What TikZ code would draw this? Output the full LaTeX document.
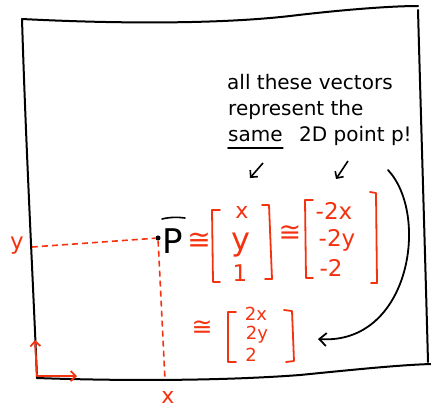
\documentclass[tikz,border=0pt]{standalone}
\usepackage{fontspec}
\setmainfont{DejaVu Sans}
\usetikzlibrary{arrows.meta}
\definecolor{pen}{RGB}{245,50,15}
\tikzset{
  frame/.style={line width=2pt, black, line cap=round},
  redline/.style={pen, line width=1.8pt, line cap=round, line join=round},
  reddash/.style={pen, line width=1.6pt, dash pattern=on 6pt off 4pt},
  blk/.style={inner sep=0pt, text=black},
  rtxt/.style={inner sep=0pt, text=pen},
  bark/.style={-{Straight Barb[length=5pt,width=10pt]}},
  fs/.style={font=\fontsize{#1}{#1}\selectfont},
}
\begin{document}
\begin{tikzpicture}[x=1pt,y=-1pt]
\useasboundingbox (0,0) rectangle (431,407);
% frame
\draw[frame] (22,19) .. controls (120,24) and (220,24) .. (290,16) .. controls (340,10) and (390,6) .. (418,6);
\draw[frame] (418,10) .. controls (421,120) and (425,250) .. (428,362);
\draw[frame] (37,378) .. controls (120,381) and (220,381) .. (300,375) .. controls (360,369) and (400,365) .. (431,364);
\draw[frame] (22,19) .. controls (26,150) and (33,280) .. (37,378);
% axes
\coordinate (o) at (37,376);
\coordinate (ytip) at (35,340);
\coordinate (xtip) at (77,376);
\draw[redline, bark] (o) -- (ytip);
\draw[redline, bark] (o) -- (xtip);
% point P
\node[circle, fill=black, inner sep=1.8pt] (p) at (158,238) {};
\node[blk, fs=34] (P) at (173,241) {P};
\draw[line width=1.6pt, line cap=round] (162,219) .. controls (170,217) and (178,217) .. (185,218);
% projections
\coordinate (yl) at (32,247);
\coordinate (xb) at (165,380);
\draw[reddash] (yl) -- (p);
\draw[reddash] (p) -- (xb);
\node[rtxt, fs=23] (ylab) at (17,246) {y};
\node[rtxt, fs=22] (xlab) at (168,397) {x};
% congruence signs
\node[rtxt, fs=28] (c1) at (199,241) {≅};
\node[rtxt, fs=27] (c2) at (290,233) {≅};
\node[rtxt, fs=25] (c3) at (202,328) {≅};
% matrix 1
\draw[redline] (220,210) -- (212,210) -- (213,282) -- (220,282);
\draw[redline] (262,205) -- (269,205) -- (272,279) -- (265,279);
\node[rtxt, fs=22] (m1a) at (242,212) {x};
\node[rtxt, fs=32] (m1b) at (241,245) {y};
\node[rtxt, fs=23] (m1c) at (240,273) {1};
% matrix 2
\draw[redline] (313,200) -- (305,200) -- (306,278) -- (313,278);
\draw[redline] (370,192) -- (376,193) -- (377,283) -- (371,283);
\node[rtxt, fs=23] (m2a) at (334,211) {-2x};
\node[rtxt, fs=23] (m2b) at (337,240) {-2y};
\node[rtxt, fs=23] (m2c) at (331,268) {-2};
% matrix 3
\draw[redline] (236,312) -- (228,312) -- (228,362) -- (236,362);
\draw[redline] (284,310) -- (292,311) -- (294,361) -- (286,362);
\node[rtxt, fs=18] (m3a) at (256,314) {2x};
\node[rtxt, fs=18] (m3b) at (257,335) {2y};
\node[rtxt, fs=18] (m3c) at (251,355) {2};
% note
\node[blk, fs=20, anchor=west] (l1) at (227,82) {all these vectors};
\node[blk, fs=20, anchor=west] (l2) at (228,110) {represent the};
\node[blk, fs=20, anchor=west] (l3a) at (228,136) {same};
\node[blk, fs=20, anchor=west] (l3b) at (299,136) {2D point p!};
\draw[line width=1.6pt, line cap=round] ([yshift=-6pt]l3a.south west) -- ([yshift=-6pt]l3a.south east);
% small arrows
\coordinate (a1s) at (263,163);
\coordinate (a1e) at (250,178);
\coordinate (a2s) at (348,161);
\coordinate (a2e) at (336,179);
\draw[line width=1.6pt, bark] (a1s) -- (a1e);
\draw[line width=1.6pt, bark] (a2s) -- (a2e);
% curved arrow
\coordinate (cs) at (388,170);
\coordinate (ce) at (318,339);
\draw[line width=1.8pt, line cap=round, -{Straight Barb[length=7pt,width=13pt]}] (cs) .. controls (430,215) and (410,345) .. (ce);
\end{tikzpicture}
\end{document}
